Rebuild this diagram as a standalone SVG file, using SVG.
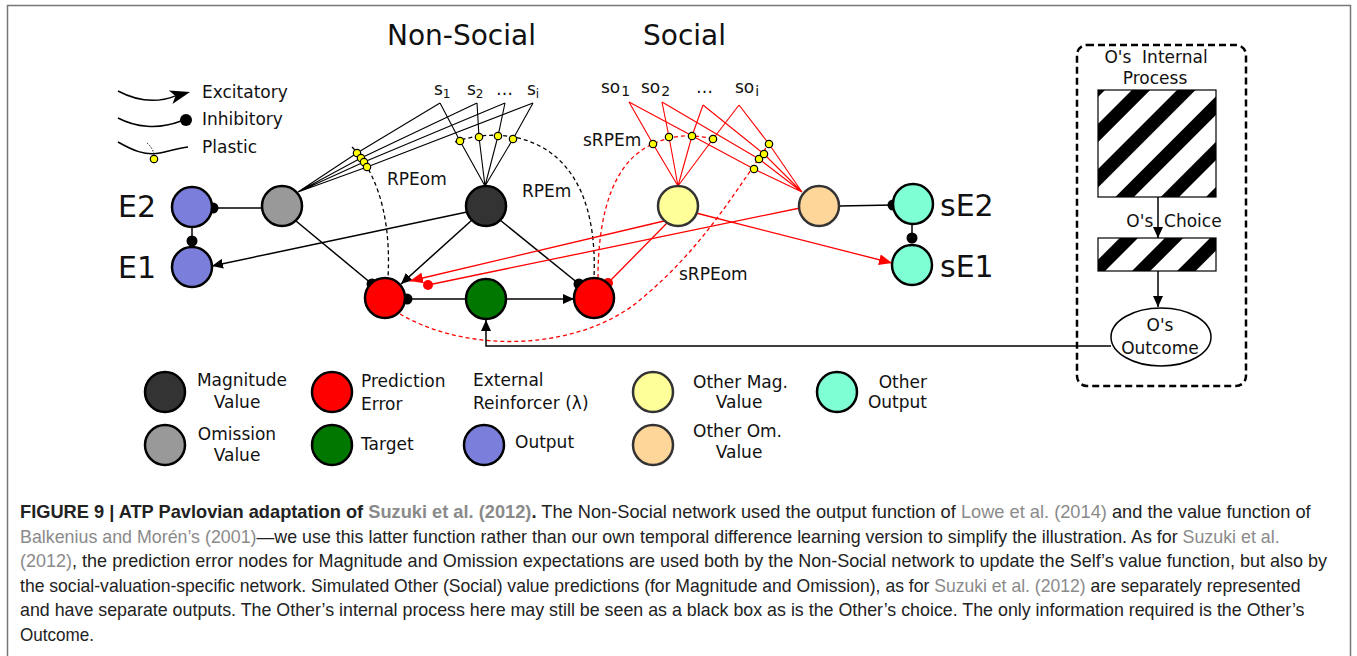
<svg xmlns="http://www.w3.org/2000/svg" width="1357" height="656" viewBox="0 0 1357 656">
<style>
.lbl{font-family:"DejaVu Sans",Verdana,sans-serif;fill:#111;font-size:17px}
.big{font-size:30px}
.head{font-size:28px}
.node{stroke:#000;stroke-width:2.5}
.soft{stroke:#333;stroke-width:2.5}
.ln{fill:none;stroke:#000;stroke-width:1.5}
.rl{fill:none;stroke:#f00;stroke-width:1.3}
.fan{fill:none;stroke:#000;stroke-width:1.1}
.rfan{fill:none;stroke:#f00;stroke-width:1.1}
.dash{fill:none;stroke:#000;stroke-width:1.3;stroke-dasharray:4 3}
.rdash{fill:none;stroke:#f00;stroke-width:1.3;stroke-dasharray:4 3}
.syn{fill:#ff0;stroke:#000;stroke-width:1.2}
.cap{font-family:"Liberation Sans",Arial,sans-serif;font-size:18px;fill:#222}
.ref{fill:#8a8a8a}
.b{font-weight:bold}
</style>
<defs>
<marker id="arr" viewBox="0 0 11 10" refX="11" refY="5" markerWidth="11" markerHeight="10" markerUnits="userSpaceOnUse" orient="auto"><path d="M0,0 L11,5 L0,10 Z" fill="#000"/></marker>
<marker id="arrR" viewBox="0 0 13 11" refX="13" refY="5.5" markerWidth="13" markerHeight="11" markerUnits="userSpaceOnUse" orient="auto"><path d="M0,0 L13,5.5 L0,11 Z" fill="#f00"/></marker>
<marker id="dot" viewBox="-6 -6 12 12" markerWidth="12" markerHeight="12" markerUnits="userSpaceOnUse"><circle r="5.5" fill="#000"/></marker>
<marker id="dotR" viewBox="-6 -6 12 12" markerWidth="12" markerHeight="12" markerUnits="userSpaceOnUse"><circle r="5" fill="#f00"/></marker>
<pattern id="hatch" patternUnits="userSpaceOnUse" width="32" height="32" patternTransform="rotate(45)"><rect width="32" height="32" fill="#fff"/><rect width="13" height="32" fill="#000"/></pattern>
</defs>

<rect width="1357" height="656" fill="#fff"/>
<!-- outer figure frame -->
<rect x="7.5" y="5.5" width="1343" height="700" fill="none" stroke="#777" stroke-width="1.5"/>

<!-- section headings -->
<text class="lbl head" x="387" y="45">Non-Social</text>
<text class="lbl head" x="643" y="45">Social</text>

<!-- line-type key -->
<g id="key-links">
<path class="ln" d="M118,91 C135,100 155,104 175.5,95.9"/>
<path d="M190,92 L168.9,90.4 L175.5,95.9 L172.5,103.9 Z" fill="#000"/>
<text class="lbl" x="202" y="98">Excitatory</text>
<path class="ln" d="M118,118 C135,127 158,130 181,121"/>
<circle cx="186" cy="120" r="6" fill="#000"/>
<text class="lbl" x="202" y="125">Inhibitory</text>
<path class="ln" d="M118,142 C132,150 145,156 160,153 C170,151 178,148 188,147"/>
<path d="M147,143 Q153,148 154,155" fill="none" stroke="#000" stroke-width="1" stroke-dasharray="1.5 1.5"/>
<circle class="syn" cx="154" cy="159" r="3.7"/>
<text class="lbl" x="202" y="153">Plastic</text>
</g>

<!-- stimulus inputs -->
<g id="inputs">
<text class="lbl" x="434" y="95" font-size="18">s<tspan dy="3" font-size="12">1</tspan></text>
<text class="lbl" x="467" y="95" font-size="18">s<tspan dy="3" font-size="12">2</tspan></text>
<text class="lbl" x="496" y="95" font-size="18">…</text>
<text class="lbl" x="527" y="95" font-size="18">s<tspan dy="3" font-size="12">i</tspan></text>
<text class="lbl" x="601" y="93" font-size="18">so<tspan dx="1" dy="3" font-size="14">1</tspan></text>
<text class="lbl" x="641" y="93" font-size="18">so<tspan dx="1" dy="3" font-size="14">2</tspan></text>
<text class="lbl" x="696" y="93" font-size="18">…</text>
<text class="lbl" x="735" y="93" font-size="18">so<tspan dx="1" dy="3" font-size="14">i</tspan></text>
</g>

<g id="connectors">
<!-- plastic stimulus fans -->
<path class="fan" d="M440,103 L460,141 L485,186 M477,103 L479,137 L485,186 M505,103 L498,136 L485,186 M533,103 L513,139 L485,186"/>
<path class="fan" d="M440,103 L357,153 L298,192 M477,103 L361,158 L298,192 M505,103 L364,162 L298,192 M533,103 L367,167 L298,192"/>
<path class="rfan" d="M629,102 L653,144 L678,186 M662,102 L669,137 L678,186 M703,105 L692,136 L678,186 M739,105 L713,139 L678,186"/>
<path class="rfan" d="M629,102 L754,169 L802,192 M662,102 L759,159 L802,192 M703,105 L764,154 L802,192 M739,105 L769,144 L802,192"/>
<!-- prediction error modulation -->
<path class="dash" d="M352,147 C370,165 392,205 388,278"/>
<path class="dash" d="M455,142 C500,125 600,130 594,278"/>
<path class="rdash" d="M598,278 C598,210 615,160 653,144 Q683,130 716,140"/>
<path class="rdash" d="M400,314 C470,355 580,350 640,300 S730,200 770,142"/>
<!-- non-social pathways -->
<line class="ln" x1="262" y1="208" x2="213" y2="208" marker-end="url(#dot)"/>
<line class="ln" x1="192" y1="227" x2="192" y2="241" marker-end="url(#dot)"/>
<line class="ln" x1="296" y1="221" x2="372" y2="284" marker-end="url(#dot)"/>
<line class="ln" x1="472" y1="220" x2="401" y2="284" marker-end="url(#arr)"/>
<line class="ln" x1="467" y1="212" x2="212" y2="266" marker-end="url(#arr)"/>
<line class="ln" x1="500" y1="220" x2="579" y2="284" marker-end="url(#dot)"/>
<line class="ln" x1="466" y1="299" x2="407" y2="299" marker-end="url(#dot)"/>
<line class="ln" x1="506" y1="299" x2="574" y2="299" marker-end="url(#arr)"/>
<polyline class="ln" points="1111,346 486,346 486,320" marker-end="url(#arr)"/>
<!-- social pathways -->
<line class="ln" x1="839" y1="206" x2="893" y2="205" marker-end="url(#dot)"/>
<line class="ln" x1="912" y1="224" x2="912" y2="238" marker-end="url(#dot)"/>
<line class="rl" x1="664" y1="221" x2="410" y2="281" marker-end="url(#arrR)"/>
<line class="rl" x1="800" y1="208" x2="428" y2="285" marker-end="url(#dotR)"/>
<line class="rl" x1="667" y1="223" x2="608" y2="283" marker-end="url(#dotR)"/>
<line class="rl" x1="696" y1="213" x2="892" y2="263" marker-end="url(#arrR)"/>
<!-- other's process -->
<line class="ln" x1="1158" y1="197" x2="1158" y2="238" marker-end="url(#arr)"/>
<line class="ln" x1="1158" y1="258" x2="1158" y2="307" marker-end="url(#arr)"/>
</g>

<!-- plastic synapses -->
<g id="synapses">
<circle class="syn" cx="460" cy="141" r="3.7"/><circle class="syn" cx="479" cy="137" r="3.7"/><circle class="syn" cx="498" cy="136" r="3.7"/><circle class="syn" cx="513" cy="139" r="3.7"/>
<circle class="syn" cx="357" cy="153" r="3.7"/><circle class="syn" cx="361" cy="158" r="3.7"/><circle class="syn" cx="364" cy="162" r="3.7"/><circle class="syn" cx="367" cy="167" r="3.7"/>
<circle class="syn" cx="653" cy="144" r="3.7"/><circle class="syn" cx="669" cy="137" r="3.7"/><circle class="syn" cx="692" cy="136" r="3.7"/><circle class="syn" cx="713" cy="139" r="3.7"/>
<circle class="syn" cx="754" cy="169" r="3.7"/><circle class="syn" cx="759" cy="159" r="3.7"/><circle class="syn" cx="764" cy="154" r="3.7"/><circle class="syn" cx="769" cy="144" r="3.7"/>
</g>

<!-- arc labels -->
<text class="lbl" x="387" y="185">RPEom</text>
<text class="lbl" x="522" y="197">RPEm</text>
<text class="lbl" x="583" y="146">sRPEm</text>
<text class="lbl" x="679" y="280">sRPEom</text>

<!-- network nodes -->
<g id="E2"><circle class="node" cx="192" cy="207" r="20" fill="#7b7fdb"/><text class="lbl big" x="118" y="217">E2</text></g>
<g id="E1"><circle class="node" cx="192" cy="267" r="20" fill="#7b7fdb"/><text class="lbl big" x="118" y="278">E1</text></g>
<g id="omission"><circle class="node" cx="282" cy="206" r="20" fill="#999"/></g>
<g id="magnitude"><circle class="node" cx="486" cy="206" r="20" fill="#333"/></g>
<g id="pe-omission"><circle class="node" cx="385" cy="298" r="20" fill="#f00"/></g>
<g id="target"><circle class="node" cx="486" cy="299" r="20" fill="#007800"/></g>
<g id="pe-magnitude"><circle class="node" cx="594" cy="298" r="20" fill="#f00"/></g>
<g id="other-mag"><circle class="soft" cx="678" cy="206" r="20" fill="#ffff99"/></g>
<g id="other-om"><circle class="soft" cx="819" cy="206" r="20" fill="#ffd699"/></g>
<g id="sE2"><circle class="node" cx="913" cy="204" r="20" fill="#7fffd4"/><text class="lbl big" x="940" y="216">sE2</text></g>
<g id="sE1"><circle class="node" cx="912" cy="265" r="20" fill="#7fffd4"/><text class="lbl big" x="940" y="277">sE1</text></g>

<!-- other agent's internal process -->
<g id="other-process">
<rect x="1077" y="45" width="169" height="341" rx="10" fill="none" stroke="#000" stroke-width="2.5" stroke-dasharray="7 4"/>
<text class="lbl" x="1156" y="63" text-anchor="middle" xml:space="preserve">O's  Internal</text>
<text class="lbl" x="1155" y="84" text-anchor="middle">Process</text>
<rect x="1098" y="90" width="118" height="107" fill="url(#hatch)" stroke="#000" stroke-width="1.2"/>
<text class="lbl" x="1174" y="227" text-anchor="middle" xml:space="preserve">O's  Choice</text>
<rect x="1098" y="238" width="118" height="33" fill="url(#hatch)" stroke="#000" stroke-width="1.2"/>
<ellipse cx="1161" cy="337" rx="50" ry="29" fill="#fff" stroke="#000" stroke-width="1.5"/>
<text class="lbl" x="1160" y="331" text-anchor="middle">O's</text>
<text class="lbl" x="1160" y="354" text-anchor="middle">Outcome</text>
</g>

<!-- node colour key -->
<g id="key-nodes">
<g id="key-magnitude"><circle class="node" cx="165" cy="392" r="20" fill="#333"/><text class="lbl" x="242" y="386" text-anchor="middle">Magnitude</text><text class="lbl" x="237" y="408" text-anchor="middle">Value</text></g>
<g id="key-omission"><circle class="node" cx="165" cy="445" r="20" fill="#999"/><text class="lbl" x="237" y="440" text-anchor="middle">Omission</text><text class="lbl" x="237" y="461" text-anchor="middle">Value</text></g>
<g id="key-pe"><circle class="node" cx="332" cy="392" r="20" fill="#f00"/><text class="lbl" x="361" y="387">Prediction</text><text class="lbl" x="361" y="410">Error</text></g>
<g id="key-target"><circle class="node" cx="332" cy="445" r="20" fill="#007800"/><text class="lbl" x="361" y="450">Target</text></g>
<g id="key-reinforcer"><text class="lbl" x="473" y="386">External</text><text class="lbl" x="473" y="409">Reinforcer (λ)</text></g>
<g id="key-output"><circle class="node" cx="484" cy="445" r="20" fill="#7b7fdb"/><text class="lbl" x="515" y="448">Output</text></g>
<g id="key-other-mag"><circle class="soft" cx="653" cy="392" r="20" fill="#ffff99"/><text class="lbl" x="693" y="388">Other Mag.</text><text class="lbl" x="739" y="408" text-anchor="middle">Value</text></g>
<g id="key-other-om"><circle class="soft" cx="653" cy="445" r="20" fill="#ffd699"/><text class="lbl" x="693" y="437">Other Om.</text><text class="lbl" x="739" y="458" text-anchor="middle">Value</text></g>
<g id="key-other-output"><circle class="node" cx="837" cy="392" r="20" fill="#7fffd4"/><text class="lbl" x="927" y="388" text-anchor="end">Other</text><text class="lbl" x="927" y="408" text-anchor="end">Output</text></g>
</g>

<!-- caption: one line per text, widened or narrowed slightly to its measure -->
<g id="caption" class="cap">
<text transform="translate(20,518) scale(1.014,1)"><tspan class="b">FIGURE 9 | ATP Pavlovian adaptation of </tspan><tspan class="b ref">Suzuki et al. (2012)</tspan><tspan class="b">.</tspan> The Non-Social network used the output function of <tspan class="ref">Lowe et al. (2014)</tspan> and the value function of</text>
<text transform="translate(20,543) scale(0.991,1)"><tspan class="ref">Balkenius and Morén’s (2001)</tspan>—we use this latter function rather than our own temporal difference learning version to simplify the illustration. As for <tspan class="ref">Suzuki et al.</tspan></text>
<text transform="translate(20,567) scale(1.002,1)"><tspan class="ref">(2012)</tspan>, the prediction error nodes for Magnitude and Omission expectations are used both by the Non-Social network to update the Self’s value function, but also by</text>
<text transform="translate(20,592) scale(0.977,1)">the social-valuation-specific network. Simulated Other (Social) value predictions (for Magnitude and Omission), as for <tspan class="ref">Suzuki et al. (2012)</tspan> are separately represented</text>
<text transform="translate(20,616) scale(0.991,1)">and have separate outputs. The Other’s internal process here may still be seen as a black box as is the Other’s choice. The only information required is the Other’s</text>
<text transform="translate(20,641) scale(0.95,1)">Outcome.</text>
</g>
</svg>
